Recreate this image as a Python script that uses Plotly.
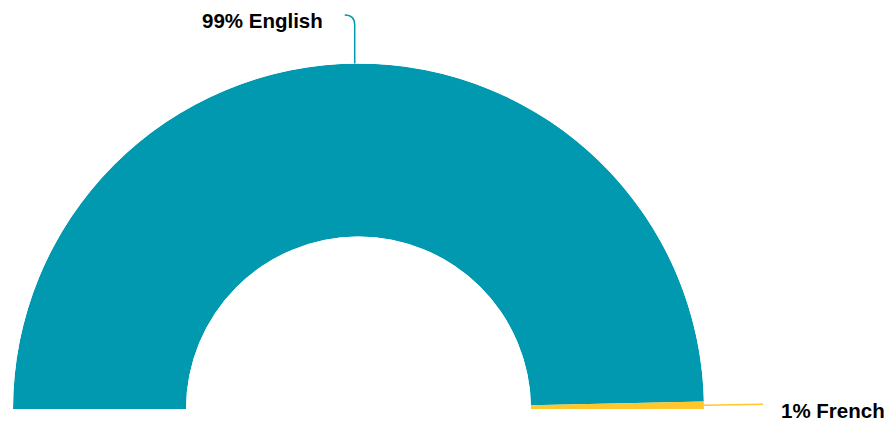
import plotly.graph_objects as go
import math

languages = ["English", "French"]
shares = [99.3, 0.7]
colors = ["#0099B0", "#FFC72C"]

W, H = 892, 422
# half-donut geometry (pixels)
cx, cy, R, r_in = 358.5, 409.0, 345.5, 172.5

total = sum(shares)
thetas, widths = [], []
acc = 0.0
for v in shares:
    w = v / total * 180.0
    thetas.append(acc + w / 2)
    widths.append(w)
    acc += w

fig = go.Figure()
for lang, v, th, w, c in zip(languages, shares, thetas, widths, colors):
    fig.add_trace(go.Barpolar(
        r=[1], theta=[th], width=[w], base=0,
        marker=dict(color=c, line=dict(width=0)),
        name=lang, hoverinfo="skip", showlegend=False,
    ))

fig.update_layout(
    width=W, height=H,
    margin=dict(l=0, r=0, t=0, b=0),
    paper_bgcolor="white", plot_bgcolor="white",
    polar=dict(
        domain=dict(x=[(cx - R) / W, (cx + R) / W], y=[(H - cy) / H, (H - cy + R) / H]),
        sector=[0, 180],
        hole=r_in / R,
        bgcolor="white",
        angularaxis=dict(direction="clockwise", rotation=180, visible=False, showgrid=False),
        radialaxis=dict(range=[0, 1], visible=False, showgrid=False),
    ),
    showlegend=False,
)

def px(x, y):
    return x / W, 1 - y / H

font = dict(family="Liberation Sans, Arial, sans-serif", size=20.5, color="#000000")
shapes, annos = [], []
for lang, v, th, c in zip(languages, shares, thetas, colors):
    ang = math.radians(180 - th)
    ex, ey = cx + R * math.cos(ang), cy - R * math.sin(ang)
    label = f"<b>{round(v)}% {lang}</b>"
    if math.cos(ang) < 0.5 and math.sin(ang) > 0.5:
        # top label: vertical line then curve left
        x0, y0 = px(ex, ey)
        x1, y1 = px(ex, 25)
        x2, y2 = px(ex - 10, 15)
        shapes.append(dict(type="path", xref="paper", yref="paper",
                           path=f"M {x0},{y0} L {x1},{y1} Q {x0},{y2} {x2},{y2}",
                           line=dict(color=c, width=1.5)))
        tx, ty = px(ex - 30, 20)
        annos.append(dict(x=tx, y=ty, xref="paper", yref="paper", text=label,
                          showarrow=False, xanchor="right", yanchor="middle", font=font))
    else:
        x0, y0 = px(ex, ey)
        x1, y1 = px(ex + 59, ey - 1)
        shapes.append(dict(type="line", xref="paper", yref="paper",
                           x0=x0, y0=y0, x1=x1, y1=y1,
                           line=dict(color=c, width=1.5)))
        tx, ty = px(ex + 75, 410)
        annos.append(dict(x=tx, y=ty, xref="paper", yref="paper", text=label,
                          showarrow=False, xanchor="left", yanchor="middle", font=font))

fig.update_layout(shapes=shapes, annotations=annos)
fig.write_html("out.html", config={"displayModeBar": False},
               post_script="document.body.style.margin='0';")
